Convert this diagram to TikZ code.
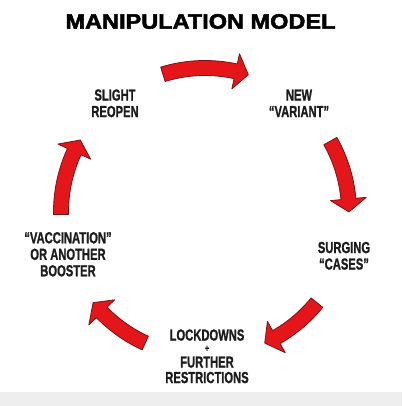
\documentclass[tikz,border=0pt]{standalone}
\usepackage{fontspec}
\setmainfont{Liberation Sans}
\newfontfamily\heavyfont[BoldFeatures={FakeBold=2.2}]{Liberation Sans}
\newfontfamily\lblfont[BoldFeatures={FakeBold=1.2}]{Liberation Sans}
\usetikzlibrary{calc}
\definecolor{arrowred}{RGB}{228,22,26}
\definecolor{arrowedge}{RGB}{125,18,22}
\definecolor{ink}{RGB}{28,28,28}
\definecolor{band}{RGB}{238,238,238}
\tikzset{
  lbl/.style={text=ink, font=\lblfont\fontsize{16}{16.5}\selectfont\bfseries, inner sep=0pt, align=center},
  titlestyle/.style={text=black, font=\heavyfont\fontsize{21}{21}\selectfont\bfseries, inner sep=0pt},
  arrowfill/.style={fill=arrowred, draw=arrowedge, line width=0.8pt, line join=round},
}
\newcommand{\lbltext}[1]{\scalebox{0.7}[1]{\begin{tabular}{@{}c@{}}#1\end{tabular}}}
\def\R{144}
\def\hw{7.5}
\def\hh{18}
\def\hl{5.2}
\newcommand{\cycarrow}[2]{%
  \pgfmathsetmacro\hb{#2+\hl}%
  \pgfmathsetmacro\Ro{\R+\hw}%
  \pgfmathsetmacro\Ri{\R-\hw}%
  \pgfmathsetmacro\Rh{\R+\hh}%
  \pgfmathsetmacro\Rl{\R-\hh}%
  \draw[arrowfill] ([shift={(C)}]#1:\Ro) arc[start angle=#1, end angle=\hb, radius=\Ro]
    -- ([shift={(C)}]\hb:\Rh) -- ([shift={(C)}]#2:\R) -- ([shift={(C)}]\hb:\Rl)
    -- ([shift={(C)}]\hb:\Ri) arc[start angle=\hb, end angle=#1, radius=\Ri] -- cycle;
}
\begin{document}
\begin{tikzpicture}[x=1pt,y=1pt]
\useasboundingbox (0,0) rectangle (402,406);
\fill[white] (0,0) rectangle (402,406);
\fill[band] (0,0) rectangle (402,14);
\coordinate (C) at (205,194);

\node[titlestyle] (title) at (200.5,384.5) {\scalebox{1.12}[1]{MANIPULATION MODEL}};

\node[lbl] (reopen) at (115,300.5) {\lbltext{SLIGHT\\REOPEN}};
\node[lbl] (variant) at (299,300.5) {\lbltext{NEW\\“VARIANT”}};
\node[lbl] (cases) at (344,148) {\lbltext{SURGING\\“CASES”}};
\node[lbl] (vaccine) at (68,149.5) {\lbltext{“VACCINATION”\\OR ANOTHER\\BOOSTER}};
\node[lbl] (lock) at (207,47.5) {\lbltext{LOCKDOWNS\\[-5.5pt]{\fontsize{10}{10}\selectfont +}\\[-0.5pt]FURTHER\\[-1pt]RESTRICTIONS}};

\cycarrow{107}{72.5}
\cycarrow{29.5}{0}
\cycarrow{-39}{-65.5}
\cycarrow{245.5}{219}
\cycarrow{181}{150}
\end{tikzpicture}
\end{document}
